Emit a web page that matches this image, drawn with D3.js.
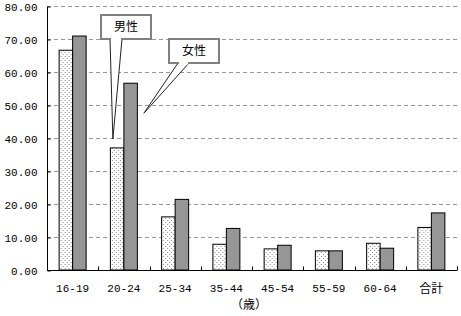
<!DOCTYPE html>
<html>
<head>
<meta charset="utf-8">
<script src="https://cdn.jsdelivr.net/npm/d3@7"></script>
<style>
  body { margin: 0; background: #fff; }
  svg text { font-family: "Noto Sans CJK JP", "DejaVu Sans", sans-serif; font-size: 12px; fill: #000; }
  svg text.num { font-family: "Liberation Mono", "Noto Sans CJK JP", monospace; font-size: 11px; }
</style>
</head>
<body>
<script>
// age groups and rates
var categories = ["16-19", "20-24", "25-34", "35-44", "45-54", "55-59", "60-64", "合計"];
var male   = [66.6, 37.0, 16.1, 7.8, 6.4, 5.8, 8.1, 12.9];
var female = [70.9, 56.6, 21.4, 12.6, 7.5, 5.8, 6.6, 17.3];
var yTicks = [0, 10, 20, 30, 40, 50, 60, 70, 80];
var seriesNames = ["男性", "女性"];

var width = 461, height = 316,
    plotLeft = 47, plotRight = 457, plotTop = 6, plotBottom = 270;

var svg = d3.select("body").append("svg")
    .attr("width", width)
    .attr("height", height);

var defs = svg.append("defs");
var pat = defs.append("pattern")
    .attr("id", "dots")
    .attr("patternUnits", "userSpaceOnUse")
    .attr("width", 4).attr("height", 4);
pat.append("rect").attr("width", 4).attr("height", 4).attr("fill", "#fff");
pat.append("rect").attr("x", 0).attr("y", 0).attr("width", 1).attr("height", 1).attr("fill", "#8a8a8a");
pat.append("rect").attr("x", 2).attr("y", 2).attr("width", 1).attr("height", 1).attr("fill", "#8a8a8a");

var x = d3.scaleBand().domain(categories).range([plotLeft, plotRight]).paddingInner(0).paddingOuter(0);
var y = d3.scaleLinear().domain([0, 80]).range([plotBottom, plotTop]);

// gridlines
svg.append("g").selectAll("line")
    .data(yTicks.filter(function(d) { return d > 0; }))
    .enter().append("line")
    .attr("x1", plotLeft).attr("x2", plotRight)
    .attr("y1", function(d) { return Math.round(y(d)) + 0.5; })
    .attr("y2", function(d) { return Math.round(y(d)) + 0.5; })
    .attr("stroke", "#969696")
    .attr("stroke-dasharray", "4,3");

// bars
var bw = 13.5;
var groups = svg.append("g").selectAll("g")
    .data(categories)
    .enter().append("g")
    .attr("transform", function(d) { return "translate(" + (x(d) + x.bandwidth() / 2) + ",0)"; });

groups.append("rect")
    .attr("x", -bw)
    .attr("y", function(d, i) { return y(male[i]); })
    .attr("width", bw)
    .attr("height", function(d, i) { return plotBottom - y(male[i]); })
    .attr("fill", "url(#dots)")
    .attr("stroke", "#000");

groups.append("rect")
    .attr("x", 0)
    .attr("y", function(d, i) { return y(female[i]); })
    .attr("width", bw)
    .attr("height", function(d, i) { return plotBottom - y(female[i]); })
    .attr("fill", "#969696")
    .attr("stroke", "#000");

// y axis, ticks pointing inward
var yAxis = svg.append("g")
    .attr("transform", "translate(" + (plotLeft + 0.5) + ",0.5)")
    .call(d3.axisRight(y).tickValues(yTicks).tickSize(3).tickFormat(function(d) { return d.toFixed(2); }));
yAxis.select(".domain").attr("d", "M0," + plotTop + "V" + plotBottom).attr("stroke", "#000");
yAxis.selectAll(".tick text")
    .attr("class", "num")
    .attr("x", -10)
    .attr("text-anchor", "end")
    .attr("dy", "0.35em");

// x axis with ticks at category boundaries
var xAxis = svg.append("g").attr("transform", "translate(0," + (plotBottom + 0.5) + ")");
xAxis.append("line")
    .attr("x1", plotLeft).attr("x2", plotRight)
    .attr("stroke", "#000");
xAxis.selectAll(".xt")
    .data(categories)
    .enter().append("line")
    .attr("class", "xt")
    .attr("x1", function(d) { return Math.round(x(d) + x.bandwidth()) + 0.5; })
    .attr("x2", function(d) { return Math.round(x(d) + x.bandwidth()) + 0.5; })
    .attr("y1", 0).attr("y2", -4)
    .attr("stroke", "#000");
xAxis.selectAll("text")
    .data(categories)
    .enter().append("text")
    .attr("class", function(d) { return /\d/.test(d) ? "num" : null; })
    .attr("x", function(d) { return x(d) + x.bandwidth() / 2; })
    .attr("y", 18)
    .attr("dy", "0.35em")
    .attr("text-anchor", "middle")
    .text(function(d) { return d; });

svg.append("text")
    .attr("x", 249)
    .attr("y", 305)
    .attr("dy", "0.35em")
    .attr("text-anchor", "middle")
    .text("（歳）");

// callouts
function callout(label, bx, by, bwid, bh, t1, t2, tip) {
    var g = svg.append("g");
    g.append("path")
        .attr("d", "M" + t1 + "," + (by + bh) + "L" + tip[0] + "," + tip[1] + "L" + t2 + "," + (by + bh))
        .attr("fill", "#fff")
        .attr("stroke", "#222");
    g.append("rect")
        .attr("x", bx).attr("y", by)
        .attr("width", bwid).attr("height", bh)
        .attr("fill", "#fff")
        .attr("stroke", "#808080")
        .attr("stroke-width", 2);
    g.append("line")
        .attr("x1", t1 + 1).attr("x2", t2 - 1)
        .attr("y1", by + bh).attr("y2", by + bh)
        .attr("stroke", "#fff")
        .attr("stroke-width", 3);
    g.append("text")
        .attr("x", bx + bwid / 2)
        .attr("y", by + bh / 2)
        .attr("dy", "0.35em")
        .attr("text-anchor", "middle")
        .text(label);
}

callout(seriesNames[0], 101, 15, 50, 24, 110, 122, [x("20-24") + x.bandwidth() / 2 - 11, y(male[1]) - 9]);
callout(seriesNames[1], 169, 39, 50, 24, 178, 189, [x("20-24") + x.bandwidth() / 2 + 20, y(female[1]) + 30]);
</script>
</body>
</html>
